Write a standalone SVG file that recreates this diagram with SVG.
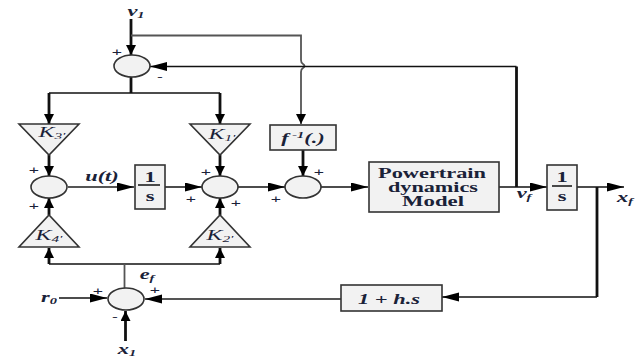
<svg xmlns="http://www.w3.org/2000/svg" width="640" height="358" viewBox="0 0 640 358">
<style>
.s{fill:#f2f2f2;stroke:#333;stroke-width:1.6}
.c{fill:none;stroke:#111;stroke-width:1.7}
.g{fill:none;stroke:#555;stroke-width:1.8}
.t{fill:none;stroke:#111;stroke-width:2.8}
.h{marker-end:url(#ah)}
.v{marker-end:url(#av)}
text{font-family:"Liberation Serif",serif;fill:#1a2238}
.i{font-style:italic;font-size:14px;text-anchor:middle;font-weight:bold}
.k{font-style:italic;font-size:14px;text-anchor:middle;font-weight:normal}
.p{font-size:11px;text-anchor:middle;font-family:"Liberation Sans",sans-serif}
.m{font-size:14px;font-weight:bold}
.n{font-size:14px;font-weight:bold;text-anchor:middle}
</style>
<defs>
<marker id="ah" markerUnits="userSpaceOnUse" markerWidth="18" markerHeight="10" refX="17" refY="4.500" orient="auto"><path d="M0 0L17 4.500L0 9Z" fill="#000"/></marker>
<marker id="av" markerUnits="userSpaceOnUse" markerWidth="11" markerHeight="11" refX="10" refY="5" orient="auto"><path d="M0 0L10 5L0 10Z" fill="#000"/></marker>
</defs>
<g id="connectors">
<path class="t v" d="M131 19V55"/>
<path class="g" d="M131 35.500H301V60Q301 63 303 64Q306 66 303 68Q301 69 301 72"/>
<path class="g v" d="M301 72V124"/>
<path class="c h" d="M516.500 66.500H150"/>
<path class="t" d="M516.500 66.500V187"/>
<path class="t" d="M131 77V93"/>
<path class="c" d="M49 93H220"/>
<path class="t v" d="M49 93V124"/>
<path class="t v" d="M220 93V124"/>
<path class="t v" d="M49 155V176"/>
<path class="t v" d="M220 155V176"/>
<path class="t v" d="M303 150V176"/>
<path class="g h" d="M68 187H134"/>
<path class="c h" d="M165 187H202"/>
<path class="c h" d="M238 187H285"/>
<path class="c h" d="M321 187H368"/>
<path class="c h" d="M499 187H547"/>
<path class="c h" d="M577 187H624"/>
<path class="t v" d="M49 215V198"/>
<path class="t v" d="M220 215V198"/>
<path class="t v" d="M49 264V248"/>
<path class="t v" d="M220 264V248"/>
<path class="c" d="M49 264H220"/>
<path class="g" d="M124.500 264V288"/>
<path class="c h" d="M59 298H107"/>
<path class="t v" d="M125.500 341V311"/>
<path class="g h" d="M341 299H145"/>
<path class="t" d="M597 187V297"/>
<path class="c h" d="M597 297H442"/>
</g>
<g id="sum-top"><ellipse class="s" cx="132" cy="66" rx="18" ry="11"/></g>
<g id="sum-left"><ellipse class="s" cx="49" cy="187" rx="18" ry="11"/></g>
<g id="sum-middle"><ellipse class="s" cx="220" cy="187" rx="18" ry="11"/></g>
<g id="sum-right"><ellipse class="s" cx="303" cy="187" rx="18" ry="11"/></g>
<g id="sum-bottom"><ellipse class="s" cx="126" cy="299" rx="18" ry="11"/></g>
<g id="k3"><path class="s" d="M19 124H79L49 155Z"/><text class="k" transform="translate(52 137) scale(1.7 1)">K<tspan font-size="9" dy="2">3'</tspan></text></g>
<g id="k1"><path class="s" d="M190 124H250L220 155Z"/><text class="k" transform="translate(222 139) scale(1.7 1)">K<tspan font-size="9" dy="2">1'</tspan></text></g>
<g id="k4"><path class="s" d="M19 247H79L49 215Z"/><text class="k" transform="translate(49 240) scale(1.7 1)">K<tspan font-size="9" dy="2">4'</tspan></text></g>
<g id="k2"><path class="s" d="M190 247H250L220 215Z"/><text class="k" transform="translate(220 240) scale(1.7 1)">K<tspan font-size="9" dy="2">2'</tspan></text></g>
<g id="finv"><rect class="s" x="270" y="125" width="66" height="25"/><text class="i" transform="translate(303 143) scale(1.6 1)">f<tspan font-size="9" dy="-5"> -1</tspan><tspan dy="5">(.)</tspan></text></g>
<g id="int1"><rect class="s" x="135" y="165" width="30" height="44"/><text class="n" transform="translate(150 182) scale(1.6 1)">1</text><path d="M138 185H160" stroke="#111" stroke-width="1.500"/><text class="n" transform="translate(150 201) scale(1.6 1)">s</text></g>
<g id="powertrain"><rect class="s" x="369" y="162" width="130" height="50"/>
<text class="m" x="378" y="178" textLength="108" lengthAdjust="spacingAndGlyphs">Powertrain</text>
<text class="m" x="388" y="192" textLength="90" lengthAdjust="spacingAndGlyphs">dynamics</text>
<text class="m" x="402" y="206" textLength="62" lengthAdjust="spacingAndGlyphs">Model</text></g>
<g id="int2"><rect class="s" x="547" y="165" width="30" height="45"/><text class="n" transform="translate(562 182) scale(1.6 1)">1</text><path d="M552 186H572" stroke="#111" stroke-width="1.500"/><text class="n" transform="translate(562 201) scale(1.6 1)">s</text></g>
<g id="lead"><rect class="s" x="341" y="285" width="101" height="26"/><text class="i" transform="translate(389 304) scale(1.6 1)">1 + h.s</text></g>
<g id="labels">
<text class="i" transform="translate(136 16) scale(1.6 1)">v<tspan font-size="9" dy="2">1</tspan></text>
<text class="i" transform="translate(102 181) scale(1.6 1)">u(t)</text>
<text class="i" transform="translate(49 302) scale(1.6 1)">r<tspan font-size="9" dy="2">0</tspan></text>
<text class="i" transform="translate(127 354) scale(1.6 1)">x<tspan font-size="9" dy="2">1</tspan></text>
<text class="i" transform="translate(147 279) scale(1.6 1)">e<tspan font-size="9" dy="2">f</tspan></text>
<text class="i" transform="translate(524 198) scale(1.6 1)">v<tspan font-size="9" dy="2">f</tspan></text>
<text class="i" transform="translate(625 202) scale(1.6 1)">x<tspan font-size="9" dy="2">f</tspan></text>
<text class="p" transform="translate(117 56) scale(1.6 1)">+</text>
<text class="p" transform="translate(160 80) scale(1.6 1)">-</text>
<text class="p" transform="translate(34 174) scale(1.6 1)">+</text>
<text class="p" transform="translate(34 210) scale(1.6 1)">+</text>
<text class="p" transform="translate(206 176) scale(1.6 1)">+</text>
<text class="p" transform="translate(191 203) scale(1.6 1)">+</text>
<text class="p" transform="translate(236 207) scale(1.6 1)">+</text>
<text class="p" transform="translate(319 176) scale(1.6 1)">+</text>
<text class="p" transform="translate(276 203) scale(1.6 1)">+</text>
<text class="p" transform="translate(98 295) scale(1.6 1)">+</text>
<text class="p" transform="translate(155 294) scale(1.6 1)">+</text>
<text class="p" transform="translate(115 320) scale(1.6 1)">-</text>
</g>
</svg>
